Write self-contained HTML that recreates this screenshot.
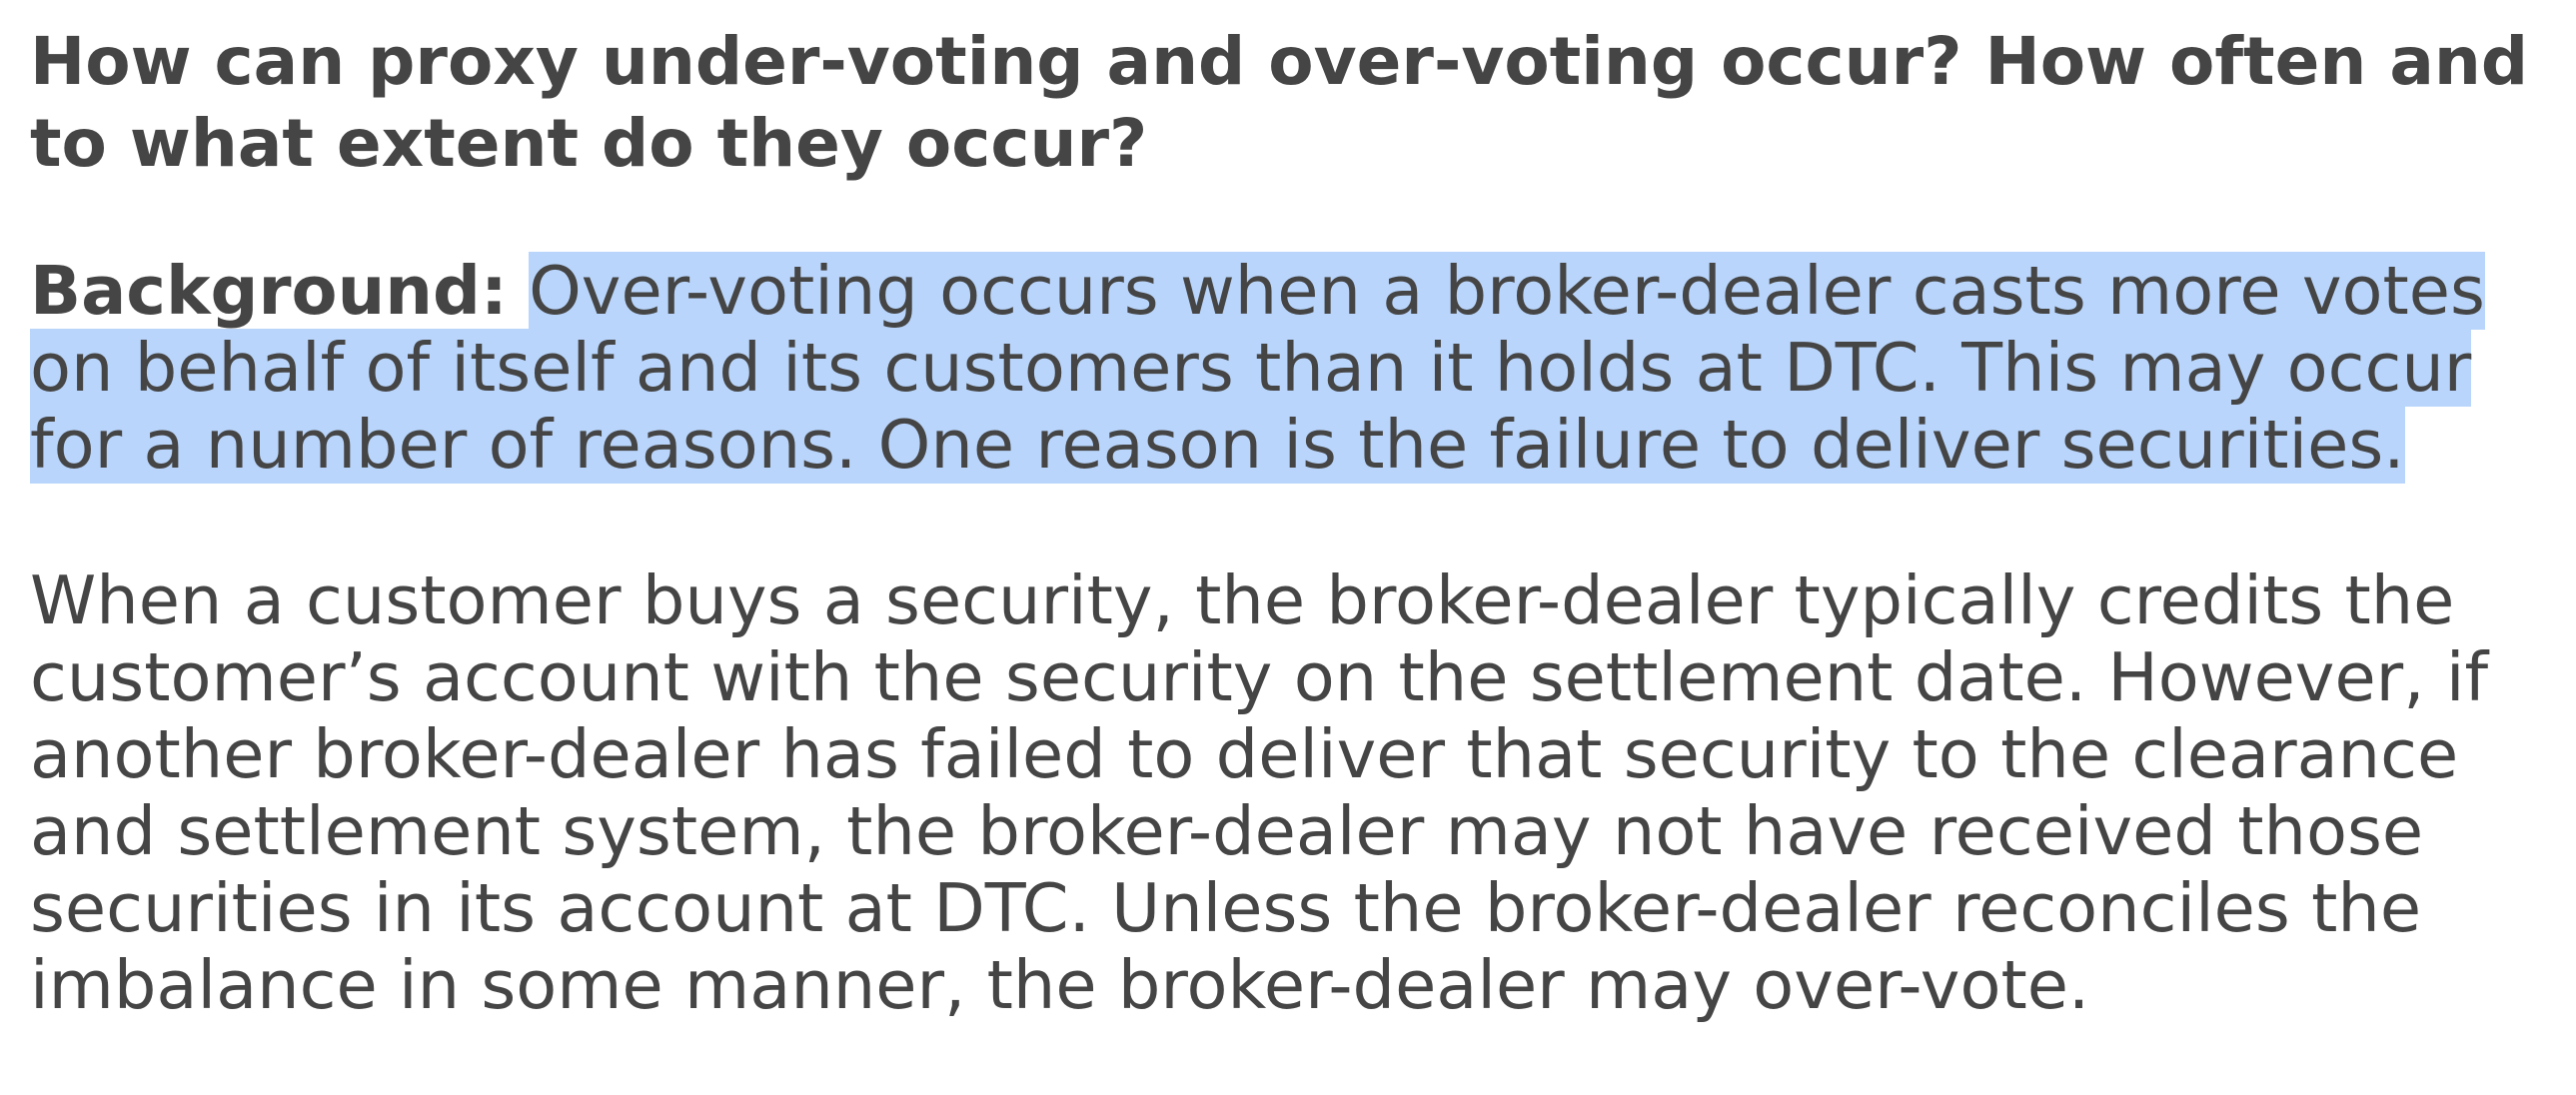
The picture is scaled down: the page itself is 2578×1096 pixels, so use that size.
<!DOCTYPE html>
<html><head><meta charset="utf-8"><style>
html,body{margin:0;padding:0;background:#fff;width:2578px;height:1096px;overflow:hidden}
body{font-family:"DejaVu Sans","Liberation Sans",sans-serif;color:#454545;position:relative}
.l{position:absolute;left:30px;white-space:nowrap;font-size:67px;line-height:77px}
.t{position:absolute;left:30px;white-space:nowrap;font-size:66px;font-weight:bold;line-height:82px}
.hl{background:#b9d5fb}
</style></head><body>
<div class="t" style="top:21px">How can proxy under-voting and over-voting occur? How often and<br>to what extent do they occur?</div>
<div class="l" style="top:253px"><b>Background:</b> <span class="hl">Over-voting occurs when a broker-dealer casts more votes</span><br><span class="hl">on behalf of itself and its customers than it holds at DTC. This may occur</span><br><span class="hl">for a number of reasons. One reason is the failure to deliver securities.</span></div>
<div class="l" style="top:563px">When a customer buys a security, the broker-dealer typically credits the<br>customer’s account with the security on the settlement date. However, if<br>another broker-dealer has failed to deliver that security to the clearance<br>and settlement system, the broker-dealer may not have received those<br>securities in its account at DTC. Unless the broker-dealer reconciles the<br>imbalance in some manner, the broker-dealer may over-vote.</div>
</body></html>
